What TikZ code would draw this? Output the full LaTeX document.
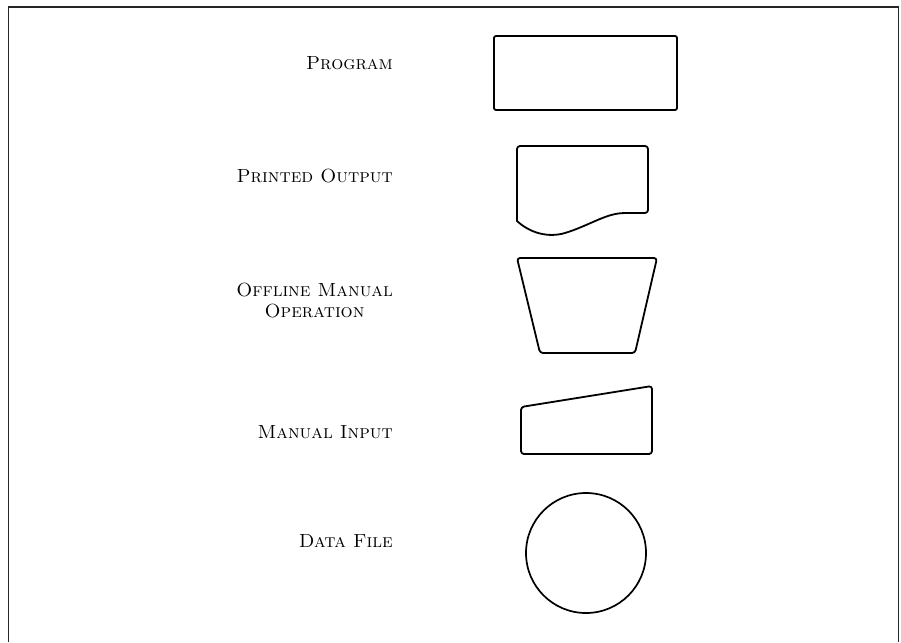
\documentclass[tikz,border=0pt]{standalone}
\usepackage{tikz}
\begin{document}
\begin{tikzpicture}[x=1pt,y=-1pt,
  shapeline/.style={draw=black,line width=1.8pt,rounded corners=3pt,line join=round},
  framestyle/.style={draw=black!85,line width=1pt},
  lblfont/.style={inner sep=0pt,font=\fontsize{19}{21}\selectfont},
  lbl/.style={lblfont,anchor=base east}]
\useasboundingbox (0,0) rectangle (901,642);
% frame
\draw[framestyle] (8,642) -- (8,7) -- (898,7) -- (898,642);
\draw[draw=black!85,line width=1.6pt] (8,7) -- (898,7);
% labels
\node[lbl] (lprog) at (393,70) {\textsc{Program}};
\node[lbl] (lprint) at (393,182) {\textsc{Printed Output}};
\node[lbl] (loff1) at (393,296) {\textsc{Offline Manual}};
\node[lblfont,anchor=base] (loff2) at ([yshift=-21pt]loff1.base) {\textsc{Operation}};
\node[lbl] (lman) at (393,438) {\textsc{Manual Input}};
\node[lbl] (ldata) at (393,547) {\textsc{Data File}};
% program
\draw[shapeline,rounded corners=2pt] (494,36) rectangle (677,110);
% printed output
\draw[shapeline] (517,200) -- (517,146) -- (648,146) -- (648,213) -- (625,213)
  [sharp corners] .. controls (605,214) and (588,226) .. (565,233)
  .. controls (548,238) and (530,233) .. (517,221) [rounded corners=3pt] -- (517,200);
% offline manual operation
\draw[shapeline] (587,258) -- (657,258) -- (635,353) -- (540,353) -- (517,258) -- cycle;
% manual input
\draw[shapeline] (587,454) -- (521,454) -- (521,407) -- (652,386) -- (652,454) -- cycle;
% data file
\node[draw=black,line width=1.7pt,circle,minimum size=120pt,inner sep=0pt] (datafile) at (586,553) {};
\end{tikzpicture}
\end{document}
